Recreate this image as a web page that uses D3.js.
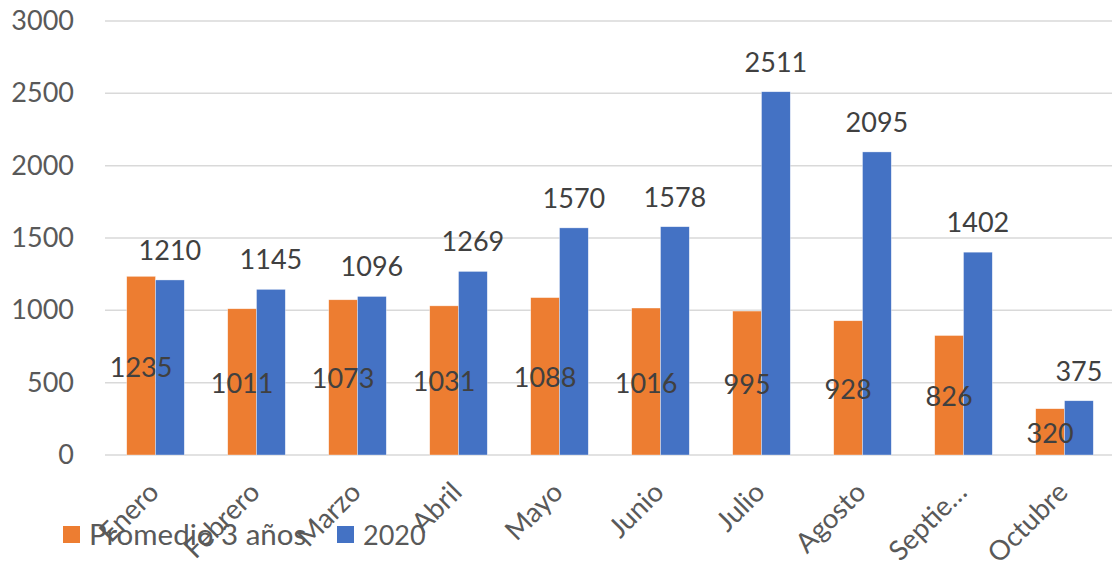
<!DOCTYPE html>
<html><head><meta charset="utf-8">
<script src="https://cdn.jsdelivr.net/npm/d3@7"></script>
<style>body{margin:0;background:#fff}svg{display:block}text{font-family:Lato,"Open Sans",sans-serif}</style>
</head><body><svg id="c" width="1112" height="570"></svg>
<script>
const categories = ["Enero","Febrero","Marzo","Abril","Mayo","Junio","Julio","Agosto","Septie…","Octubre"];
const promedio = [1235,1011,1073,1031,1088,1016,995,928,826,320];
const y2020 = [1210,1145,1096,1269,1570,1578,2511,2095,1402,375];
const seriesNames = ["Promedio 3 años","2020"];
const yTicks = [0,500,1000,1500,2000,2500,3000];
const colors = ["#ED7D31","#4472C4"];

(function(){
const svg = d3.select("#c");
const pl = 105, pr = 1115, pt = 21, pb = 455;
const x = d3.scaleBand().domain(categories).range([pl, pr]).paddingInner(0.43).paddingOuter(0.215);
const xs = d3.scaleBand().domain([0,1]).range([0, x.bandwidth()]);
const y = d3.scaleLinear().domain([0,3000]).range([pb, pt]);

svg.append("g").selectAll("line").data(yTicks).join("line")
  .attr("x1", pl).attr("x2", 1112).attr("y1", d=>y(d)).attr("y2", d=>y(d))
  .attr("stroke", "#d9d9d9").attr("stroke-width", 1.5);

const yAxis = d3.axisLeft(y).tickValues(yTicks).tickFormat(d3.format("d")).tickSize(0).tickPadding(0);
const ya = svg.append("g").attr("transform", "translate(74,0)").call(yAxis);
ya.select(".domain").remove();
ya.selectAll("text").attr("font-size", 27).attr("fill", "#595959").attr("font-family", "Lato");

const data = categories.map((c,i)=>({c, vals:[promedio[i], y2020[i]]}));
const g = svg.append("g").selectAll("g").data(data).join("g").attr("transform", d=>`translate(${x(d.c)},0)`);
g.selectAll("rect").data(d=>d.vals.map((v,k)=>({v,k}))).join("rect")
  .attr("x", d=>xs(d.k)).attr("width", xs.bandwidth())
  .attr("y", d=>y(d.v)).attr("height", d=>pb - y(d.v))
  .attr("fill", d=>colors[d.k]).attr("stroke", "#ffffff").attr("stroke-width", 0.6).attr("stroke-opacity",0.6);

g.append("text").attr("x", xs(0)+xs.bandwidth()/2).attr("y", d=>(y(d.vals[0])+pb)/2 + 11)
  .attr("text-anchor","middle").attr("font-size",27).attr("fill","#404040").text(d=>d.vals[0]);
g.append("text").attr("x", xs(1)+xs.bandwidth()/2).attr("y", d=>y(d.vals[1]) - 20)
  .attr("text-anchor","middle").attr("font-size",27).attr("fill","#404040").text(d=>d.vals[1]);

svg.append("g").selectAll("text").data(categories).join("text")
  .attr("transform", d=>`translate(${x(d)+x.bandwidth()/2+5},494) rotate(-45)`)
  .attr("text-anchor","end").attr("font-size",27.5).attr("fill","#595959").text(d=>d);

const lg = svg.append("g");
const lx = [63, 337];
seriesNames.forEach((s,i)=>{
  lg.append("rect").attr("x", lx[i]).attr("y", 526).attr("width", 17).attr("height", 17).attr("fill", colors[i]);
  lg.append("text").attr("x", lx[i]+26).attr("y", 545).attr("font-size", i===0?29.5:27).attr("fill","#595959").text(s);
});
})();
</script></body></html>
